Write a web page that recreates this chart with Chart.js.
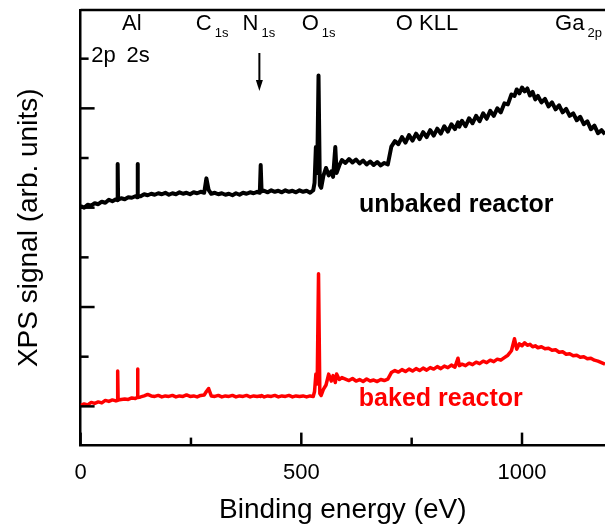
<!DOCTYPE html>
<html>
<head>
<meta charset="utf-8">
<script src="https://cdn.jsdelivr.net/npm/chart.js@4"></script>
<style>
  html, body { margin: 0; padding: 0; background: #fff; }
  #wrap { width: 605px; height: 529px; }
</style>
</head>
<body>
<div id="wrap"><canvas id="xpsChart" width="605" height="529"></canvas></div>
<script>
// binding energy (eV)
const energy = [
    0, 8, 16, 24, 32, 40, 48, 56, 64, 72,
    80, 83, 84, 85, 92, 100, 108, 116, 124, 128,
    129, 130, 136, 144, 152, 160, 168, 176, 184, 192,
    200, 208, 216, 224, 232, 240, 248, 256, 264, 272,
    280, 285, 290, 296, 304, 312, 320, 328, 336, 344,
    352, 360, 368, 376, 384, 392, 400, 406, 408, 410,
    416, 424, 432, 440, 448, 456, 464, 472, 480, 488,
    496, 504, 512, 520, 527, 530, 533, 536, 539, 542,
    545, 550, 556, 562, 568, 572, 577, 580, 586, 592,
    600, 608, 616, 624, 632, 640, 648, 656, 664, 672,
    680, 688, 696, 704, 712, 720, 728, 736, 744, 752,
    760, 768, 776, 784, 792, 800, 808, 816, 824, 832,
    840, 848, 855, 858, 864, 872, 880, 888, 896, 904,
    912, 920, 928, 936, 944, 952, 960, 968, 976, 983,
    988, 994, 1000, 1006, 1012, 1018, 1024, 1030, 1036, 1044,
    1052, 1060, 1068, 1076, 1084, 1092, 1100, 1108, 1116, 1124,
    1132, 1140, 1148, 1156, 1164, 1172, 1180, 1188
];

// XPS signal, arb. units (curves are offset)
const unbaked = [
    40.3, 40.0, 40.6, 40.4, 40.9, 40.7, 41.2, 41.0, 41.6, 41.3,
    41.7, 41.5, 48.8, 41.6, 41.9, 41.7, 42.1, 42.0, 42.3, 42.1,
    48.8, 42.4, 42.3, 42.7, 42.5, 42.8, 42.6, 42.9, 42.7, 43.0,
    42.6, 42.9, 42.7, 43.1, 42.8, 43.0, 42.7, 43.1, 42.9, 43.2,
    43.0, 45.9, 43.6, 42.8, 43.0, 42.7, 42.9, 42.6, 42.8, 42.5,
    42.9, 42.6, 43.0, 42.8, 43.1, 42.9, 43.2, 43.0, 48.6, 43.3,
    43.4, 43.1, 43.5, 43.2, 43.4, 43.1, 43.5, 43.2, 43.4, 43.1,
    43.5, 43.2, 43.4, 43.0, 43.5, 45.0, 52.2, 47.0, 66.6, 44.5,
    44.0, 46.4, 48.0, 46.5, 47.3, 46.2, 52.2, 47.0, 48.5, 49.6,
    49.0, 49.8, 49.1, 49.7, 48.9, 49.5, 48.7, 49.3, 48.6, 49.2,
    48.5, 49.0, 48.7, 52.3, 53.4, 52.8, 54.2, 53.1, 54.6, 53.5,
    54.9, 53.8, 55.2, 54.2, 55.6, 54.5, 55.9, 54.9, 56.4, 55.3,
    56.8, 55.8, 57.2, 56.3, 57.5, 56.4, 58.0, 57.0, 58.5, 57.4,
    59.0, 57.9, 59.5, 58.5, 60.0, 59.2, 61.0, 60.8, 62.8, 62.5,
    63.8, 63.0, 64.2, 63.4, 64.0, 62.6, 63.3, 61.8, 62.5, 61.2,
    61.9, 60.4, 61.2, 59.8, 60.6, 59.2, 59.9, 58.5, 59.0, 57.6,
    58.3, 56.8, 57.4, 55.8, 56.5, 55.0, 55.6, 54.8
];

const baked = [
    0.2, 0.5, 0.3, 0.8, 0.6, 0.9, 0.7, 1.2, 1.0, 1.3,
    1.1, 1.2, 7.1, 1.3, 1.4, 1.5, 1.4, 1.7, 1.6, 1.8,
    7.5, 1.8, 1.9, 2.1, 2.4, 2.1, 2.0, 2.2, 1.9, 2.1,
    2.0, 2.2, 1.9, 2.1, 2.0, 2.3, 2.0, 2.1, 1.9, 2.2,
    2.3, 3.0, 3.6, 2.1, 2.0, 2.2, 1.9, 2.1, 2.0, 2.2,
    1.9, 2.1, 2.0, 2.2, 1.9, 2.1, 2.0, 2.1, 2.0, 2.2,
    1.9, 2.1, 2.0, 2.2, 1.9, 2.1, 2.0, 2.2, 1.9, 2.1,
    2.0, 2.1, 1.9, 2.1, 2.0, 3.0, 6.5, 4.5, 26.7, 2.6,
    2.2, 3.4, 4.3, 6.5, 5.1, 6.2, 4.8, 6.5, 5.4, 5.8,
    5.5, 5.2, 5.6, 5.1, 5.4, 5.0, 5.5, 5.1, 5.3, 5.0,
    5.4, 5.2, 5.5, 6.8, 7.2, 6.9, 7.4, 7.0, 7.5, 7.1,
    7.6, 7.2, 7.7, 7.3, 7.8, 7.5, 8.0, 7.6, 8.1, 7.8,
    8.3, 7.9, 9.7, 8.2, 8.5, 8.2, 8.7, 8.4, 8.9, 8.6,
    9.1, 8.8, 9.3, 9.0, 9.5, 9.3, 9.8, 10.3, 11.2, 13.6,
    11.5, 12.6, 12.2, 12.8, 12.3, 12.5, 12.0, 12.2, 11.8, 12.0,
    11.6, 11.7, 11.3, 11.4, 10.9, 11.0, 10.5, 10.6, 10.2, 10.3,
    9.9, 10.0, 9.6, 9.7, 9.3, 9.1, 8.8, 8.5
];

const xTickValues = [0, 250, 500, 750, 1000];
const xTickLabels = ['0', '', '500', '', '1000'];
const yTickValues = [0, 10, 20, 30, 40, 50, 60, 70];

// peak labels: text, subscript, left edge (eV), baseline (px from top)
const peakLabels = [
    { text: 'Al', sub: '', e: 94, y: 30 },
    { text: '2p', sub: '', e: 24, y: 62 },
    { text: '2s', sub: '', e: 104, y: 62 },
    { text: 'C', sub: '1s', e: 261, y: 30 },
    { text: 'N', sub: '1s', e: 367, y: 30 },
    { text: 'O', sub: '1s', e: 501, y: 30 },
    { text: 'O KLL', sub: '', e: 714, y: 30 },
    { text: 'Ga', sub: '2p', e: 1075, y: 30 }
];

const FONT = '"Liberation Sans", Arial, sans-serif';

const decorPlugin = {
    id: 'decor',
    afterDraw(chart) {
        const ctx = chart.ctx;
        const area = chart.chartArea;
        const xs = chart.scales.x;
        const ys = chart.scales.y;
        ctx.save();
        ctx.strokeStyle = '#000';
        ctx.fillStyle = '#000';
        ctx.lineWidth = 2.5;

        // top frame line
        ctx.beginPath();
        ctx.moveTo(area.left, area.top);
        ctx.lineTo(chart.width, area.top);
        ctx.stroke();

        // inward ticks on bottom axis
        xTickValues.forEach(v => {
            const px = xs.getPixelForValue(v);
            const len = v % 500 === 0 ? 13 : 8;
            ctx.beginPath();
            ctx.moveTo(px, area.bottom);
            ctx.lineTo(px, area.bottom - len);
            ctx.stroke();
        });

        // inward ticks on left axis
        yTickValues.forEach(v => {
            const py = ys.getPixelForValue(v);
            const len = v % 20 === 0 ? 14 : 8;
            ctx.beginPath();
            ctx.moveTo(area.left, py);
            ctx.lineTo(area.left + len, py);
            ctx.stroke();
        });

        // peak labels
        ctx.textBaseline = 'alphabetic';
        ctx.textAlign = 'left';
        peakLabels.forEach(l => {
            const px = xs.getPixelForValue(l.e);
            ctx.font = '22px ' + FONT;
            ctx.fillText(l.text, px, l.y);
            if (l.sub) {
                const w = ctx.measureText(l.text).width;
                ctx.font = '13px ' + FONT;
                ctx.fillText(l.sub, px + w + 3, l.y + 7);
            }
        });

        // arrow to N 1s
        const ax = xs.getPixelForValue(405);
        ctx.lineWidth = 2;
        ctx.beginPath();
        ctx.moveTo(ax, 53);
        ctx.lineTo(ax, 82);
        ctx.stroke();
        ctx.beginPath();
        ctx.moveTo(ax - 3.5, 80);
        ctx.lineTo(ax + 3.5, 80);
        ctx.lineTo(ax, 91);
        ctx.closePath();
        ctx.fill();

        // series names
        ctx.textAlign = 'center';
        ctx.font = 'bold 25px ' + FONT;
        ctx.fillStyle = '#000';
        ctx.fillText('unbaked reactor', xs.getPixelForValue(851), 212);
        ctx.fillStyle = '#ff0000';
        ctx.fillText('baked reactor', xs.getPixelForValue(816), 406);
        ctx.restore();
    }
};

const ctx = document.getElementById('xpsChart').getContext('2d');

new Chart(ctx, {
    type: 'line',
    data: {
        datasets: [{
            label: 'unbaked reactor',
            data: energy.map((e, i) => ({ x: e, y: unbaked[i] })),
            borderColor: '#000',
            borderWidth: 4,
            borderJoinStyle: 'round',
            pointRadius: 0,
            tension: 0
        }, {
            label: 'baked reactor',
            data: energy.map((e, i) => ({ x: e, y: baked[i] })),
            borderColor: '#ff0000',
            borderWidth: 3.5,
            borderJoinStyle: 'round',
            pointRadius: 0,
            tension: 0
        }]
    },
    options: {
        responsive: false,
        animation: false,
        layout: {
            padding: { left: 12, right: 0, top: 10, bottom: 5 }
        },
        plugins: {
            legend: { display: false },
            tooltip: { enabled: false }
        },
        scales: {
            x: {
                type: 'linear',
                min: 0,
                max: 1188,
                afterBuildTicks: scale => {
                    scale.ticks = xTickValues.map(v => ({ value: v }));
                },
                ticks: {
                    color: '#000',
                    padding: 14,
                    maxRotation: 0,
                    font: { family: FONT, size: 22 },
                    callback: (v) => xTickLabels[xTickValues.indexOf(v)] ?? ''
                },
                grid: { display: false, drawTicks: false },
                border: { display: true, color: '#000', width: 2.5 },
                title: {
                    display: true,
                    text: 'Binding energy (eV)',
                    color: '#000',
                    font: { family: FONT, size: 28, lineHeight: 1 },
                    padding: { top: -4, bottom: 0 }
                }
            },
            y: {
                min: -7.9,
                max: 79.8,
                ticks: { display: false },
                grid: { display: false, drawTicks: false },
                border: { display: true, color: '#000', width: 2.5 },
                title: {
                    display: true,
                    text: 'XPS signal (arb. units)',
                    color: '#000',
                    font: { family: FONT, size: 28 },
                    padding: { top: 0, bottom: 35 }
                }
            }
        }
    },
    plugins: [decorPlugin]
});
</script>
</body>
</html>
